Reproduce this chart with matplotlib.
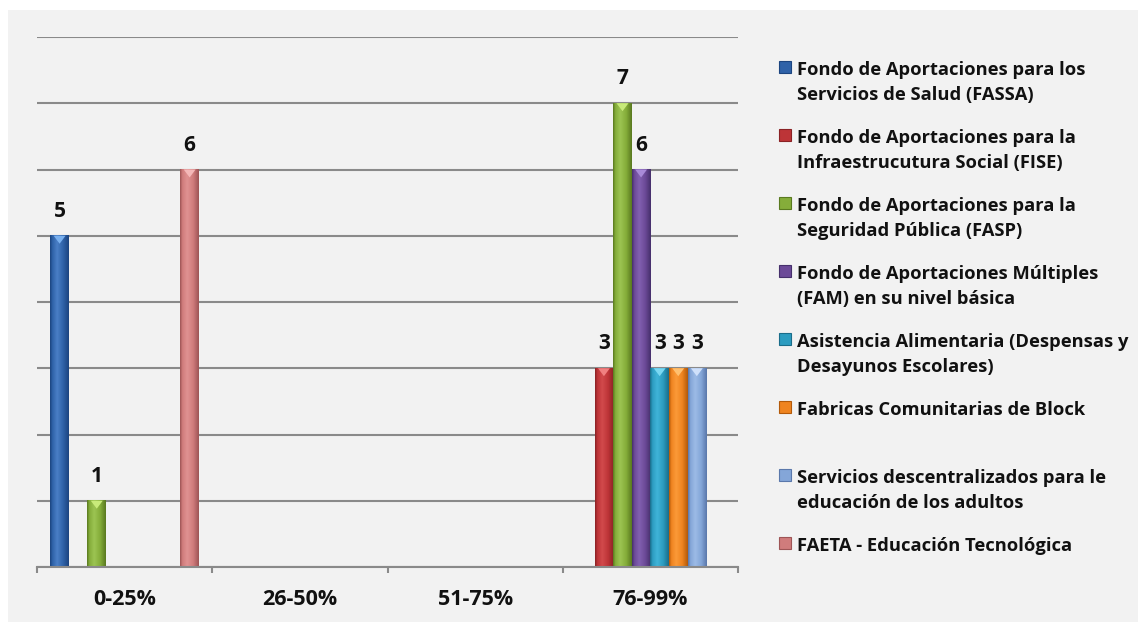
import numpy as np
import matplotlib
matplotlib.use("Agg")
import matplotlib.pyplot as plt
from matplotlib.patches import Rectangle, Polygon
from matplotlib.colors import to_rgb

categories = ["0-25%", "26-50%", "51-75%", "76-99%"]
series_names = [
    "Fondo de Aportaciones para los\nServicios de Salud (FASSA)",
    "Fondo de Aportaciones para la\nInfraestrucutura Social (FISE)",
    "Fondo de Aportaciones para la\nSeguridad Pública (FASP)",
    "Fondo de Aportaciones Múltiples\n(FAM) en su nivel básica",
    "Asistencia Alimentaria (Despensas y\nDesayunos Escolares)",
    "Fabricas Comunitarias de Block",
    "Servicios descentralizados para le\neducación de los adultos",
    "FAETA - Educación Tecnológica",
]
fassa = [5, 0, 0, 0]
fise = [0, 0, 0, 3]
fasp = [1, 0, 0, 7]
fam = [0, 0, 0, 6]
asistencia = [0, 0, 0, 3]
fabricas = [0, 0, 0, 3]
servicios = [0, 0, 0, 3]
faeta = [6, 0, 0, 0]
series_values = [fassa, fise, fasp, fam, asistencia, fabricas, servicios, faeta]

# (dark edge, base, light highlight, top bevel)
palette = [
    ("#1c4580", "#2f62a8", "#4a7fc6", "#79b0ef"),
    ("#8a2225", "#bd3437", "#d24a4c", "#f08080"),
    ("#5a7a20", "#85ad3a", "#9cc452", "#c8ea7a"),
    ("#46306c", "#6c4a98", "#8260b0", "#a88ad8"),
    ("#1a6d8a", "#2c9cc0", "#40b4d8", "#7ad8f2"),
    ("#b35a0a", "#ef8420", "#fb9a38", "#ffc070"),
    ("#5a78ab", "#84a6d8", "#9cbbe6", "#cfe0fa"),
    ("#9e5556", "#d07c7c", "#e09292", "#f4b8b8"),
]

FONT = "Open Sans"
TXT = "#111111"

W, H = 1138, 622
fig = plt.figure(figsize=(W / 100, H / 100), dpi=100)
fig.patch.set_facecolor("white")
fig.patches.append(Rectangle((8 / W, 0), 1 - 8 / W, 1 - 10 / H, transform=fig.transFigure,
                             facecolor="#f2f2f2", edgecolor="none", zorder=-10))

ax = fig.add_axes([37 / W, 1 - 567 / H, (738 - 37) / W, (567 - 37) / H])
ax.set_facecolor("none")

n = len(series_values)
x = np.arange(len(categories))
bw = 0.106
gridc = "#8a8a8a"

ax.set_yticks(range(0, 9))
ax.yaxis.grid(True, color=gridc, linewidth=1.5)
ax.set_axisbelow(True)
ax.tick_params(axis="y", length=0, labelleft=False)

for i, vals in enumerate(series_values):
    dark, base, light, bevel = palette[i]
    offs = (i - (n - 1) / 2) * bw
    bars = ax.bar(x + offs, vals, width=bw, color=base, edgecolor="none", zorder=2)
    stops = [(0.0, dark), (0.12, base), (0.38, light), (0.7, base), (1.0, dark)]
    t = np.linspace(0, 1, 40)
    cols = np.zeros((1, len(t), 3))
    for c in range(3):
        cols[0, :, c] = np.interp(t, [s[0] for s in stops], [to_rgb(s[1])[c] for s in stops])
    for b, v in zip(bars, vals):
        if v <= 0:
            continue
        x0, w, h = b.get_x(), b.get_width(), b.get_height()
        ax.imshow(cols, extent=(x0, x0 + w, 0, h), aspect="auto", zorder=3, interpolation="bilinear")
        ax.add_patch(Polygon([(x0 + 0.18 * w, h), (x0 + 0.82 * w, h), (x0 + 0.5 * w, h - 0.12)],
                             closed=True, facecolor=bevel, edgecolor="none", zorder=4))
        ax.annotate(str(v), (x0 + w / 2, h), xytext=(0, 17.5), textcoords="offset points",
                    ha="center", va="center", fontsize=15, fontweight="bold",
                    family=FONT, color=TXT, zorder=5)

ax.set_xlim(-0.5, len(categories) - 0.5)
ax.set_ylim(0, 8)

for s in ["left", "right", "top"]:
    ax.spines[s].set_visible(False)
ax.spines["bottom"].set_color(gridc)
ax.spines["bottom"].set_linewidth(1.5)
ax.spines["bottom"].set_zorder(6)

ax.set_xticks(x)
ax.set_xticklabels(categories)
ax.set_xticks(np.arange(-0.5, len(categories), 1.0), minor=True)
ax.tick_params(axis="x", which="major", length=0, pad=16)
ax.tick_params(axis="x", which="minor", length=4.5, width=1.5, color=gridc, direction="out")
for lbl in ax.get_xticklabels():
    lbl.set_fontsize(15.5)
    lbl.set_fontweight("bold")
    lbl.set_family(FONT)
    lbl.set_color(TXT)

# legend
for i, name in enumerate(series_names):
    dark, base, light, bevel = palette[i]
    base_y = 75 + 68 * i
    fig.patches.append(Rectangle((779 / W, 1 - (base_y - 2) / H), 12 / W, 12 / H,
                                 transform=fig.transFigure, facecolor=base,
                                 edgecolor=dark, linewidth=0.8, zorder=5))
    for k, line in enumerate(name.split("\n")):
        fig.text(797 / W, 1 - (base_y + 25 * k) / H, line, ha="left", va="baseline",
                 fontsize=13.2, fontweight="bold", family=FONT, color=TXT)

fig.savefig("out.png", dpi=100, facecolor=fig.get_facecolor())
